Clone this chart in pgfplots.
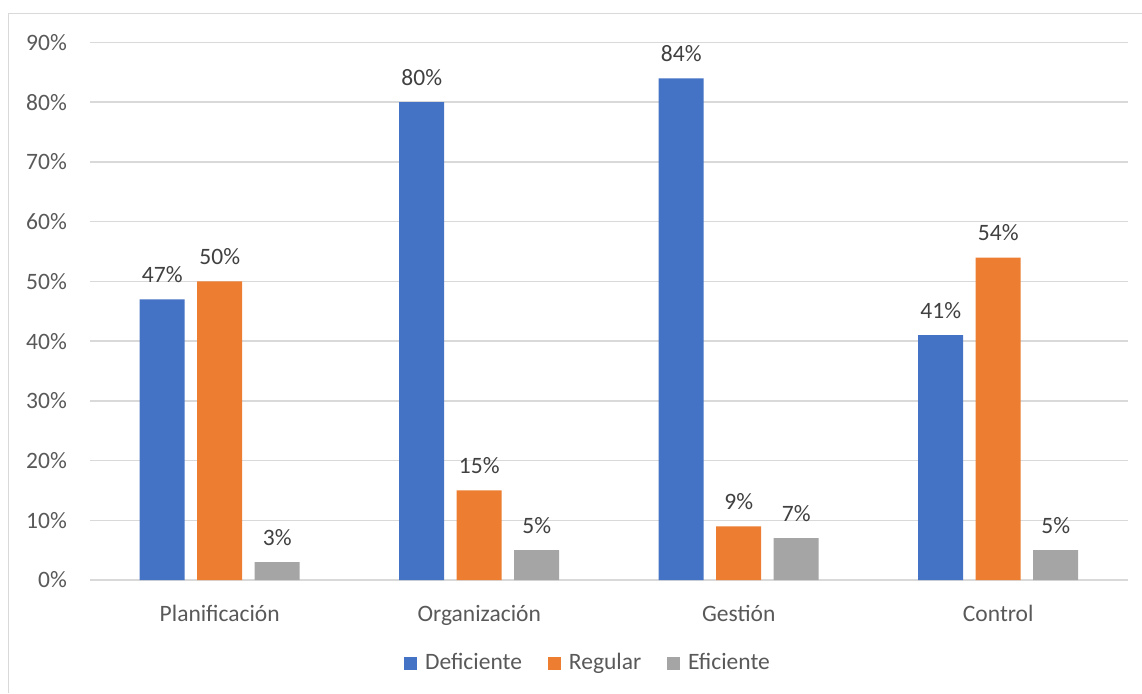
\documentclass[border=0pt]{standalone}
\usepackage{pgfplots}
\pgfplotsset{compat=1.18}
\usepackage{fontspec}
\setmainfont{Carlito}

\definecolor{azul}{HTML}{4472C4}
\definecolor{naranja}{HTML}{ED7D31}
\definecolor{gris}{HTML}{A5A5A5}
\definecolor{rejilla}{HTML}{D9D9D9}
\definecolor{texto}{HTML}{595959}
\definecolor{etiqueta}{HTML}{404040}
\newcommand\fs{\fontsize{23.5pt}{28pt}\selectfont}

\begin{document}
\fs
\begin{tikzpicture}
\useasboundingbox (0,0) rectangle (1142pt,-693pt);
% marco del grafico
\draw[line width=1.5pt, rejilla] (8.5pt,-693pt) -- (8.5pt,-13.5pt) -- (1142pt,-13.5pt);
\begin{axis}[
  at={(90pt,-580pt)}, anchor=south west,
  scale only axis,
  width=1038pt, height=537.5pt,
  ybar=12.5pt, bar width=45pt,
  xmin=-0.5, xmax=3.5,
  ymin=0, ymax=90,
  xtick={0,1,2,3},
  xticklabels={Planificación, Organización, Gestión, Control},
  ytick={0,10,...,90},
  yticklabels={0\%,10\%,20\%,30\%,40\%,50\%,60\%,70\%,80\%,90\%},
  major tick length=0pt,
  axis lines*=left,
  y axis line style={draw=none},
  x axis line style={rejilla, line width=1.5pt},
  ymajorgrids=true,
  grid style={rejilla, line width=1.5pt},
  every tick label/.append style={font=\fs, text=texto},
  xticklabel style={anchor=base, inner sep=0pt, yshift=-41pt},
  yticklabel style={anchor=east, inner sep=0pt, xshift=-23pt},
  /pgf/number format/assume math mode=true,
  nodes near coords={\pgfmathprintnumber{\pgfplotspointmeta}\%},
  nodes near coords style={font=\fs, text=etiqueta, anchor=base, inner sep=0pt, yshift=17pt},
  legend columns=3,
  legend style={at={(0.4788,-0.1544)}, anchor=center, draw=none, fill=none,
    font=\fs, text=texto, nodes={inner sep=0pt}, column sep=0pt,
    /tikz/every even column/.append style={column sep=26pt}},
  legend image code/.code={\fill[#1] (0pt,-6.5pt) rectangle (13pt,6.5pt); \path (21pt,0pt);},
]
\addplot[fill=azul, draw=none] coordinates {(0,47) (1,80) (2,84) (3,41)};
\addlegendentry{Deficiente}
\addplot[fill=naranja, draw=none] coordinates {(0,50) (1,15) (2,9) (3,54)};
\addlegendentry{Regular}
\addplot[fill=gris, draw=none] coordinates {(0,3) (1,5) (2,7) (3,5)};
\addlegendentry{Eficiente}
\end{axis}
\end{tikzpicture}
\end{document}
